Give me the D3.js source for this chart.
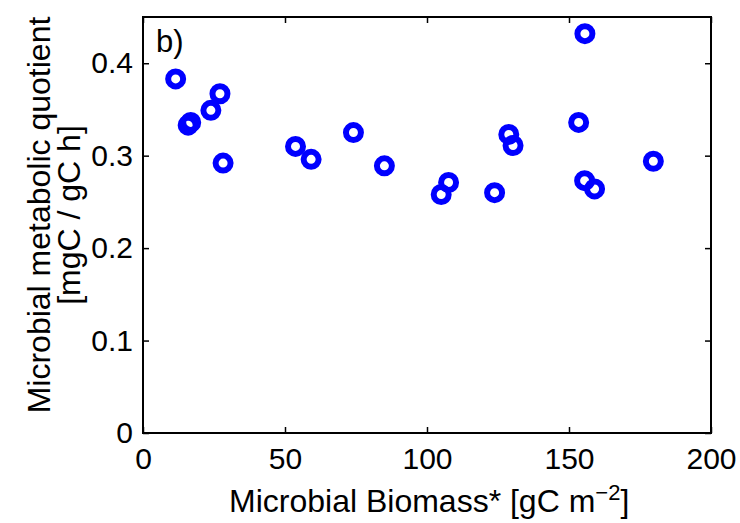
<!DOCTYPE html>
<html>
<head>
<meta charset="utf-8">
<script src="https://cdn.jsdelivr.net/npm/d3@7"></script>
<style>
  body { margin: 0; background: #fff; }
  text { font-family: "Liberation Sans", Arial, sans-serif; fill: #000; }
</style>
</head>
<body>
<div id="vis"></div>
<script>
// biomass [gC m-2] and metabolic quotient [mgC / gC h]
const biomass = [
  11.5, 27.1, 23.9, 15.9, 16.8, 28.2, 53.7, 59.2, 74.1, 85.0,
  155.6, 153.4, 128.8, 130.3, 107.6, 105.0, 123.8, 155.5, 159.0, 179.7
];
const quotient = [
  0.383, 0.367, 0.349, 0.333, 0.336, 0.292, 0.310, 0.296, 0.325, 0.289,
  0.432, 0.336, 0.323, 0.311, 0.271, 0.258, 0.260, 0.273, 0.264, 0.294
];
const xTicks = [0, 50, 100, 150, 200];
const yTicks = [0, 0.1, 0.2, 0.3, 0.4];

const W = 740, H = 523;
const box = { left: 143, right: 711, top: 17, bottom: 433 };

const svg = d3.select("#vis")
  .append("svg")
  .attr("width", W)
  .attr("height", H);

const x = d3.scaleLinear().domain([0, 200]).range([box.left, box.right]);
const y = d3.scaleLinear().domain([0, 0.45]).range([box.bottom, box.top]);

// points
svg.append("g")
  .selectAll("circle")
  .data(biomass)
  .join("circle")
  .attr("cx", d => x(d))
  .attr("cy", (d, i) => y(quotient[i]))
  .attr("r", 7.5)
  .attr("fill", "none")
  .attr("stroke", "#0000ff")
  .attr("stroke-width", 6);

// axes, ticks pointing inward, box on
const tickLen = 6;
const fmtY = d => d === 0 ? "0" : d3.format(".1f")(d);

svg.append("g")
  .attr("transform", "translate(0," + box.bottom + ")")
  .call(d3.axisBottom(x).tickValues(xTicks).tickSizeInner(-tickLen).tickSizeOuter(0).tickPadding(15));
svg.append("g")
  .attr("transform", "translate(0," + box.top + ")")
  .call(d3.axisTop(x).tickValues(xTicks).tickSizeInner(-tickLen).tickSizeOuter(0).tickFormat(""));
svg.append("g")
  .attr("transform", "translate(" + box.left + ",0)")
  .call(d3.axisLeft(y).tickValues(yTicks).tickSizeInner(-tickLen).tickSizeOuter(0).tickPadding(10).tickFormat(fmtY));
svg.append("g")
  .attr("transform", "translate(" + box.right + ",0)")
  .call(d3.axisRight(y).tickValues(yTicks).tickSizeInner(-tickLen).tickSizeOuter(0).tickFormat(""));

svg.selectAll(".tick line").attr("stroke", "#000").attr("stroke-width", 1.5);
svg.selectAll(".domain").remove();
svg.selectAll(".tick text")
  .attr("font-family", "Liberation Sans, Arial, sans-serif")
  .attr("font-size", 30)
  .attr("fill", "#000");

svg.append("rect")
  .attr("x", box.left).attr("y", box.top)
  .attr("width", box.right - box.left).attr("height", box.bottom - box.top)
  .attr("fill", "none")
  .attr("stroke", "#000")
  .attr("stroke-width", 2);

// labels
svg.append("text")
  .attr("x", 229)
  .attr("y", 512)
  .attr("font-size", 32)
  .html('Microbial Biomass* [gC m<tspan dy="-12" font-size="22">\u22122</tspan><tspan dy="12">]</tspan>');

svg.append("text")
  .attr("transform", "translate(50,215) rotate(-90)")
  .attr("text-anchor", "middle")
  .attr("font-size", 32)
  .text("Microbial metabolic quotient");
svg.append("text")
  .attr("transform", "translate(80,215) rotate(-90)")
  .attr("text-anchor", "middle")
  .attr("font-size", 32)
  .text("[mgC / gC h]");

svg.append("text")
  .attr("x", 156)
  .attr("y", 52)
  .attr("font-size", 31)
  .text("b)");
</script>
</body>
</html>
